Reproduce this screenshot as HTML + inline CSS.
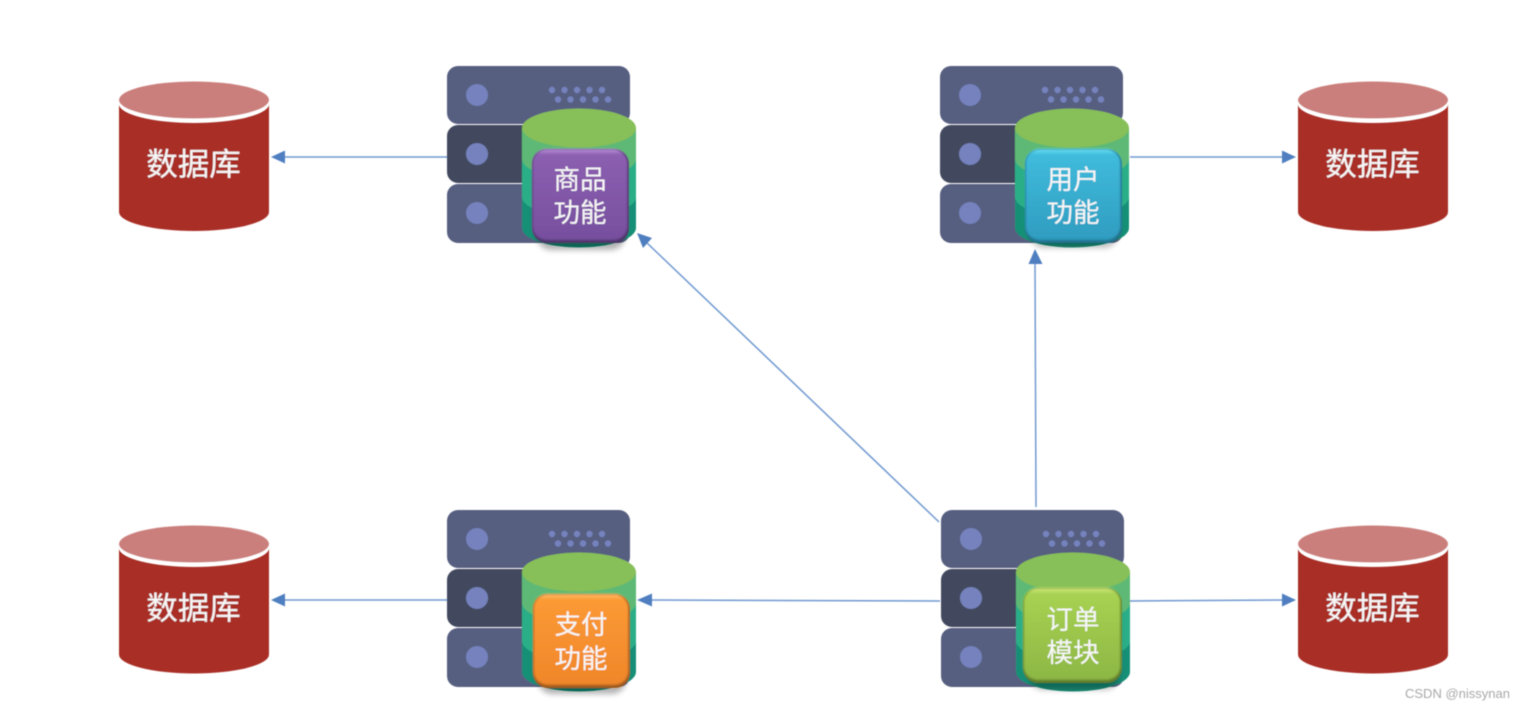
<!DOCTYPE html>
<html><head><meta charset="utf-8"><style>
html,body{margin:0;padding:0;background:#fff;width:1525px;height:710px;overflow:hidden}
svg{display:block}
.c{font-family:"Liberation Sans","Noto Sans CJK SC",sans-serif;fill:#f6f6f6;text-anchor:middle;stroke:#f6f6f6;stroke-width:.12}
</style></head><body>
<svg width="1525" height="710" viewBox="0 0 1525 710" xmlns="http://www.w3.org/2000/svg">
<defs>
<filter id="sh" x="-20%" y="-20%" width="140%" height="150%"><feGaussianBlur stdDeviation="3"/></filter>
<filter id="bl" x="-5%" y="-5%" width="110%" height="110%"><feGaussianBlur stdDeviation="1"/></filter>
<filter id="all" x="0" y="0" width="100%" height="100%" filterUnits="userSpaceOnUse"><feGaussianBlur stdDeviation="0.450"/></filter>
<linearGradient id="gp" x1="0" y1="0" x2="0" y2="1"><stop offset="0" stop-color="#c097e0"/><stop offset=".06" stop-color="#8c5fb0"/><stop offset="1" stop-color="#774f9f"/></linearGradient>
<linearGradient id="gb" x1="0" y1="0" x2="0" y2="1"><stop offset="0" stop-color="#6fe3f5"/><stop offset=".06" stop-color="#40bbdc"/><stop offset="1" stop-color="#2f9dc0"/></linearGradient>
<linearGradient id="go" x1="0" y1="0" x2="0" y2="1"><stop offset="0" stop-color="#ffc070"/><stop offset=".06" stop-color="#fb9a35"/><stop offset="1" stop-color="#f0862a"/></linearGradient>
<linearGradient id="gg" x1="0" y1="0" x2="0" y2="1"><stop offset="0" stop-color="#d5ec7c"/><stop offset=".06" stop-color="#a7d252"/><stop offset="1" stop-color="#8db744"/></linearGradient>
<g id="srv">
<rect x="0" y="0" width="183" height="58" rx="11" fill="#565f80"/>
<rect x="0" y="59" width="183" height="58" rx="11" fill="#42495f"/>
<rect x="0" y="118" width="183" height="59" rx="11" fill="#565f80"/>
<g fill="#7482bd"><circle cx="30" cy="29" r="11"/><circle cx="30" cy="88" r="11"/><circle cx="30" cy="147" r="11"/>
<circle cx="105" cy="24" r="3.2"/><circle cx="117.500" cy="24" r="3.2"/><circle cx="130" cy="24" r="3.2"/><circle cx="142.500" cy="24" r="3.2"/><circle cx="155" cy="24" r="3.2"/>
<circle cx="111" cy="33.500" r="3.2"/><circle cx="123.500" cy="33.500" r="3.2"/><circle cx="136" cy="33.500" r="3.2"/><circle cx="148.500" cy="33.500" r="3.2"/><circle cx="161" cy="33.500" r="3.2"/></g>
<path d="M75 62 v100 a57 19.500 0 0 0 114 0 v-100z" fill="#178f77"/>
<path d="M75 62 v69 a57 19.500 0 0 0 114 0 v-69z" fill="#2bae87"/>
<path d="M75 62 v31 a57 19.500 0 0 0 114 0 v-31z" fill="#5db974"/>
<ellipse cx="132" cy="62" rx="57" ry="19.500" fill="#87bf58"/>
</g>
<g id="dbtop">
<ellipse cx="75" cy="21" rx="75" ry="19" fill="#fff"/>
<ellipse cx="75" cy="19" rx="75" ry="18.500" fill="#cb7f7c"/>
</g>
<g id="db">
<path d="M0 23 V131 A75 19 0 0 0 150 131 V23 A75 19 0 0 1 0 23z" fill="#a92f26"/>
<use href="#dbtop"/>
</g>
<g id="db2">
<path d="M0 23 V129.500 A75 19 0 0 0 150 129.500 V23 A75 19 0 0 1 0 23z" fill="#a92f26"/>
<use href="#dbtop"/>
</g>
</defs>
<rect width="1525" height="710" fill="#fff"/>
<g filter="url(#all)">
<g stroke="#7099d0" stroke-width="1.500" fill="none">
<line x1="447" y1="157" x2="282" y2="157"/>
<line x1="1130" y1="157" x2="1285" y2="157"/>
<line x1="939" y1="522" x2="646" y2="242"/>
<line x1="1036" y1="507" x2="1035" y2="262"/>
<line x1="940" y1="601" x2="650" y2="600"/>
<line x1="447" y1="600" x2="282" y2="600"/>
<line x1="1130" y1="601" x2="1284" y2="600"/>
</g>
<g fill="#4f7fc0">
<polygon points="271,157 285,150.500 285,163.500"/>
<polygon points="1296,157 1282,150.500 1282,163.500"/>
<polygon points="637,233 652,238 643,248"/>
<polygon points="1035,249 1028.500,264 1042.500,264"/>
<polygon points="637,600 652,593.500 652,606.500"/>
<polygon points="271,600 285,593.500 285,606.500"/>
<polygon points="1296,600 1282,593.500 1282,606.500"/>
</g>

<use href="#srv" x="447" y="66"/>
<use href="#srv" x="940" y="66"/>
<use href="#srv" x="447" y="510"/>
<use href="#srv" x="941" y="510"/>

<use href="#db" x="119" y="81"/>
<use href="#db" x="1298" y="81"/>
<use href="#db2" x="119" y="525"/>
<use href="#db2" x="1298" y="525"/>

<rect x="537" y="160" width="88" height="90" rx="14" fill="#000" opacity=".3" filter="url(#sh)"/>
<rect x="1030" y="160" width="88" height="88" rx="14" fill="#000" opacity=".25" filter="url(#sh)"/>
<rect x="538" y="604" width="88" height="90" rx="14" fill="#000" opacity=".3" filter="url(#sh)"/>
<rect x="1029" y="600" width="90" height="90" rx="14" fill="#000" opacity=".25" filter="url(#sh)"/>

<rect x="532" y="149" width="97" height="94" rx="15" fill="#4d3569"/>
<rect x="532.500" y="149" width="95" height="91" rx="14" fill="url(#gp)" filter="url(#bl)"/>
<rect x="1025" y="149" width="97" height="94" rx="15" fill="#22708a"/>
<rect x="1025.500" y="149" width="95" height="91" rx="14" fill="url(#gb)" filter="url(#bl)"/>
<rect x="533" y="594" width="97" height="94" rx="15" fill="#9a581e"/>
<rect x="533.500" y="594" width="95" height="91" rx="14" fill="url(#go)" filter="url(#bl)"/>
<rect x="1023" y="588" width="99" height="95" rx="15" fill="#5c7a2c"/>
<rect x="1023.500" y="588" width="97" height="92" rx="14" fill="url(#gg)" filter="url(#bl)"/>

<g font-size="26.500">
<text class="c" x="580" y="189">商品</text><text class="c" x="580" y="222">功能</text>
<text class="c" x="1073" y="189">用户</text><text class="c" x="1073" y="222">功能</text>
<text class="c" x="581" y="634">支付</text><text class="c" x="581" y="668">功能</text>
<text class="c" x="1073" y="629">订单</text><text class="c" x="1073" y="662">模块</text>
</g>
<g font-size="31.500">
<text class="c" x="193.500" y="175">数据库</text>
<text class="c" x="1372.500" y="175">数据库</text>
<text class="c" x="193.500" y="619">数据库</text>
<text class="c" x="1372.500" y="619">数据库</text>
</g>
<text x="1405" y="698" font-family="Liberation Sans, sans-serif" font-size="13" fill="#a8a8a8">CSDN @nissynan</text>
</g>
</svg>
</body></html>
